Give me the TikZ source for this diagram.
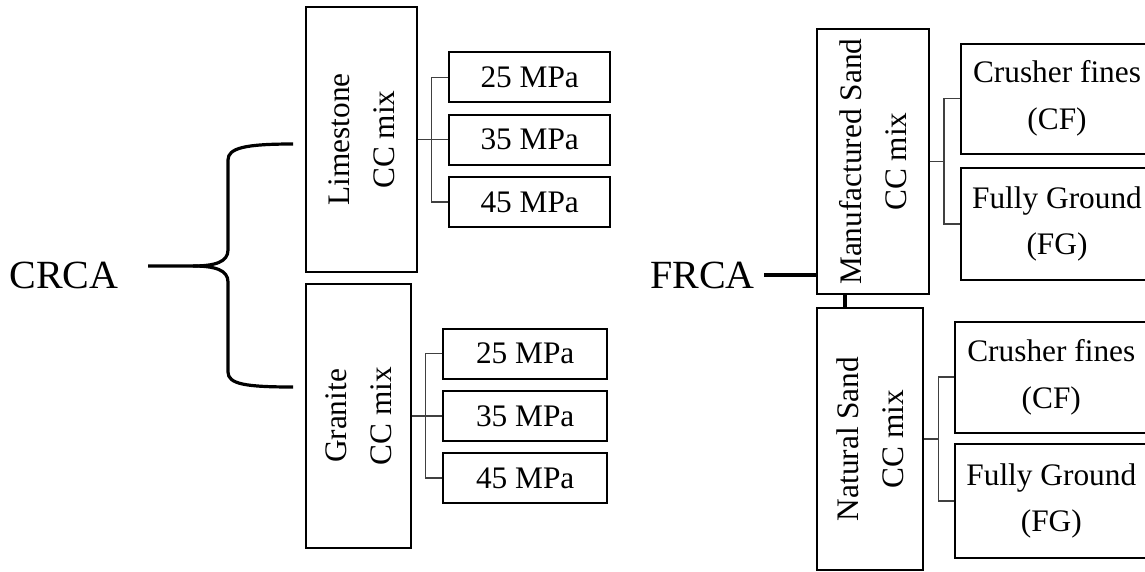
\documentclass[tikz,border=0pt]{standalone}
\usepackage{fontspec}
\setmainfont{Liberation Serif}
\usetikzlibrary{positioning}

\begin{document}
\begin{tikzpicture}[x=0.75pt,y=-0.75pt,
    mixbox/.style 2 args={draw,line width=1.5pt,rotate=90,align=center,inner sep=0pt,
        minimum width=#1*0.75pt,minimum height=#2*0.75pt,font=\fontsize{23.5}{34}\selectfont},
    gradebox/.style 2 args={draw,line width=1.5pt,align=center,inner sep=0pt,
        minimum width=#1*0.75pt,minimum height=#2*0.75pt,font=\fontsize{23.5}{35}\selectfont},
    link/.style={draw=black!75,line width=1.1pt},
    heavy/.style={line width=2.4pt},
    groupname/.style={font=\fontsize{30}{36}\selectfont,inner sep=0pt}]
    \useasboundingbox (0,0) rectangle (1145,571);
    \clip (0,0) rectangle (1145,571);
        \node[groupname] (crca) at (64,275.5) {CRCA};
        \node[groupname] (frca) at (702.5,275) {FRCA};
        \node[mixbox={265}{111}] (lime) at (361.5,139.5) {Limestone\\CC mix};
        \node[mixbox={264}{105}] (gran) at (358.5,416) {Granite\\CC mix};
        \node[mixbox={265}{112}] (manu) at (873,161.7) {Manufactured Sand\\CC mix};
        \node[mixbox={262}{106}] (nat) at (870,439) {Natural Sand\\CC mix};
        \foreach \i/\y/\v in {1/77.3/25, 2/139.5/35, 3/202/45} {
            \node[gradebox={161}{50}] (lime\i) at (529.7,\y) {\v{} MPa};
        }
        \foreach \i/\y/\v in {1/353.7/25, 2/416/35, 3/478/45} {
            \node[gradebox={164}{50}] (gran\i) at (525.2,\y) {\v{} MPa};
        }
        \node[gradebox={192}{110}] (manucf) at (1057,98.5) {Crusher fines\\(CF)};
        \node[gradebox={192}{112}] (manufg) at (1057,223.8) {Fully Ground\\(FG)};
        \node[gradebox={192}{111}] (natcf) at (1051.3,377) {Crusher fines\\(CF)};
        \node[gradebox={192}{114}] (natfg) at (1051.3,501) {Fully Ground\\(FG)};
        \coordinate (limebar) at (431.7,139.5);
        \coordinate (granbar) at (425.7,416);
        \coordinate (manubar) at (944,161.7);
        \coordinate (natbar) at (938.3,439);
        \draw[link] (lime.south) -- (lime2.west);
        \draw[link] (lime1.west) -| (limebar) |- (lime3.west);
        \draw[link] (gran.south) -- (gran2.west);
        \draw[link] (gran1.west) -| (granbar) |- (gran3.west);
        \draw[link] (manu.south) -- (manubar);
        \draw[link] (manucf.west) -| (manubar) |- (manufg.west);
        \draw[link] (nat.south) -- (natbar);
        \draw[link] (natcf.west) -| (natbar) |- (natfg.west);
        \coordinate (crcatip) at (148,266);
        \coordinate (limetip) at (293,144);
        \coordinate (grantip) at (293,387);
        \draw[heavy] (crcatip) -- (193,266) .. controls (215,266) and (228,262) .. (228,250)
            -- (228,160) .. controls (228,148) and (245,144) .. (limetip);
        \draw[heavy] (193,266) .. controls (215,266) and (228,270) .. (228,282)
            -- (228,372) .. controls (228,384) and (245,387) .. (grantip);
        \draw[heavy] ([xshift=7pt]frca.east) -- (frca.east -| manu.north);
        \coordinate (sandjoin) at ([xshift=-21pt]manu.west);
        \draw[heavy] (sandjoin) -- (sandjoin |- nat.east);
    \end{tikzpicture}
\end{document}
